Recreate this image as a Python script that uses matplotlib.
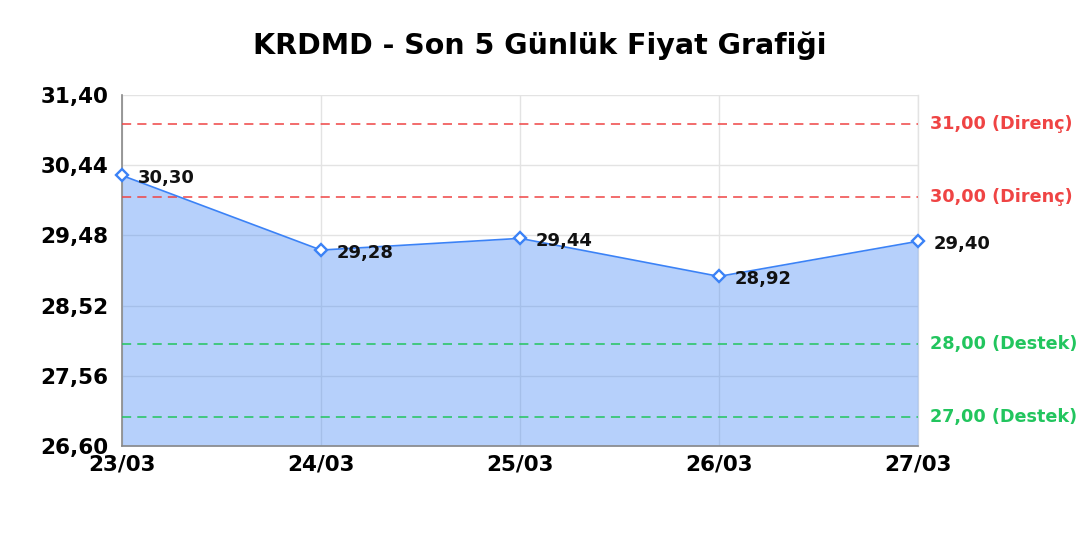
import matplotlib.pyplot as plt
import matplotlib.transforms as mtransforms

plt.rcParams['font.family'] = ['DejaVu Sans']

dates = ['23/03', '24/03', '25/03', '26/03', '27/03']
prices = [30.30, 29.28, 29.44, 28.92, 29.40]
resistance = [31.00, 30.00]
support = [28.00, 27.00]
y_ticks = [26.60, 27.56, 28.52, 29.48, 30.44, 31.40]


def fmt(v):
    return f"{v:.2f}".replace('.', ',')


fig = plt.figure(figsize=(10.8, 5.4), dpi=100)
ax = fig.add_axes([0.113, 0.174, 0.737, 0.650])

x = list(range(len(dates)))
ax.fill_between(x, prices, 26.60, color='#3b82f6', alpha=0.37, linewidth=0, zorder=2)
ax.plot(x, prices, color='#3b82f6', linewidth=1.2, marker='D', markersize=6.5,
        markerfacecolor='white', markeredgecolor='#3b82f6', markeredgewidth=1.7,
        zorder=4, clip_on=False)

for xi, p in zip(x, prices):
    ax.annotate(fmt(p), (xi, p), xytext=(11, -2), textcoords='offset points',
                ha='left', va='center', fontsize=13, fontweight='bold', color='#111111', zorder=5)

trans = mtransforms.blended_transform_factory(ax.transAxes, ax.transData)
for r in resistance:
    ax.axhline(r, color='#ef4444', linestyle=(0, (6, 4)), linewidth=1.1, zorder=3)
    ax.text(1.015, r, f"{fmt(r)} (Direnç)", transform=trans, color='#ef4444',
            fontsize=12.7, fontweight='bold', va='center', ha='left')
for s in support:
    ax.axhline(s, color='#22c55e', linestyle=(0, (6, 4)), linewidth=1.1, zorder=3)
    ax.text(1.015, s, f"{fmt(s)} (Destek)", transform=trans, color='#22c55e',
            fontsize=12.7, fontweight='bold', va='center', ha='left')

ax.set_xlim(0, len(dates) - 1)
ax.set_ylim(26.60, 31.40)
ax.set_xticks(x)
ax.set_xticklabels(dates)
ax.set_yticks(y_ticks)
ax.set_yticklabels([fmt(t) for t in y_ticks])
ax.tick_params(length=0, labelsize=15.5)
ax.tick_params(axis='y', pad=10)
ax.tick_params(axis='x', pad=6)
for lbl in ax.get_xticklabels() + ax.get_yticklabels():
    lbl.set_fontweight('bold')

ax.grid(True, color='#e3e3e3', linewidth=1, zorder=0)
ax.axvline(x[-1], color='#e3e3e3', linewidth=1, zorder=1, clip_on=False)
ax.set_axisbelow(True)
for side in ['top', 'right']:
    ax.spines[side].set_visible(False)
for side in ['left', 'bottom']:
    ax.spines[side].set_color('#888888')
    ax.spines[side].set_linewidth(1.2)

fig.text(0.5, 0.915, 'KRDMD - Son 5 Günlük Fiyat Grafiği', ha='center', va='center',
         fontsize=20.5, fontweight='bold')

fig.savefig('out.png', dpi=100)
